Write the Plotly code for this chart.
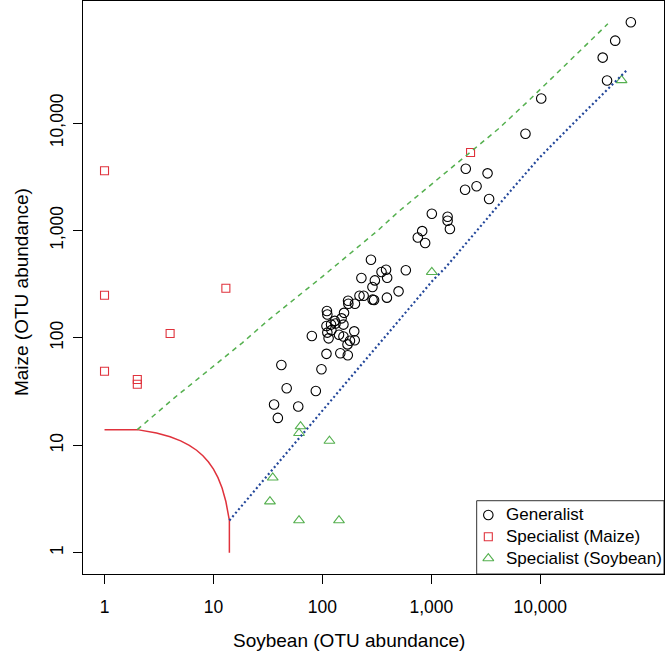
import math
import plotly.graph_objects as go

# ---------------- data (abundance values) ----------------
gen_x = [67800, 48700, 37400, 41000, 10200, 7310, 2070, 3280, 2040, 2600,
         3390, 1010, 1410, 1410, 1480, 824, 751, 877, 583, 384,
         349, 393, 500, 391, 279, 228, 303, 288, 219, 239,
         289, 298, 172, 173, 199, 110, 158, 111, 130, 150,
         109, 120, 132, 156, 121, 111, 196, 80, 114, 142,
         156, 179, 170, 198, 109, 146, 171, 42, 98, 47,
         87, 36, 60, 39]
gen_y = [86700, 58400, 40600, 24900, 16900, 7940, 3750, 3400, 2390, 2580,
         1960, 1430, 1340, 1230, 1030, 986, 859, 764, 426, 431,
         410, 363, 271, 237, 534, 361, 343, 298, 247, 247,
         227, 225, 222, 208, 208, 178, 171, 165, 144, 152,
         129, 133, 136, 133, 118, 112, 115, 104, 99, 107,
         103, 94, 87, 95, 71, 72, 69, 56, 51, 34,
         32, 24, 23, 18]

maize_x = [1, 1, 13, 4, 1, 2, 2, 2290]
maize_y = [3600, 249, 290, 110, 49, 41, 37, 5320]

soy_x = [63, 61, 116, 35, 33, 61, 142, 1010, 55700]
soy_y = [15, 13, 11, 5, 3, 2, 2, 410, 25000]

# rarity threshold curve
rare_x = [1, 2, 3, 4, 5, 6, 7, 8, 9, 10, 11, 12, 13, 14, 14]
rare_y = [14, 14, 13, 12, 11, 10, 9, 8, 7, 6, 5, 4, 3, 2, 1]

# maize specialist boundary
mline_x = [2, 4.4, 18.4, 32.3, 100, 328, 500, 1000, 2290, 4110, 7940, 15850, 41700]
mline_y = [14, 27.8, 90, 148, 372, 1014, 1497, 2692, 5324, 8790, 16400, 32100, 83800]

# soybean specialist boundary
sline_x = [14, 174.5, 328, 762, 1045, 1337, 3162, 5320, 9550, 19950, 61400]
sline_y = [2, 41.1, 86.9, 235, 348, 447, 1259, 2323, 4620, 9860, 30550]

tick_vals = [1, 10, 100, 1000, 10000]
tick_text = ["1", "10", "100", "1,000", "10,000"]

series_names = ["Generalist", "Specialist (Maize)", "Specialist (Soybean)"]

# ---------------- styles ----------------
FONT = "Arial, Liberation Sans, sans-serif"
RED = "#E0323C"
GREEN = "#55B04F"
BLUE = "#23479A"
SYMBOLS = ["circle-open", "square-open", "triangle-up-open"]
COLORS = ["black", RED, GREEN]
SIZES = [9.5, 8, 9.5]

fig = go.Figure()

for xs, ys, name, sym, col, sz in zip([gen_x, maize_x, soy_x],
                                      [gen_y, maize_y, soy_y],
                                      series_names, SYMBOLS, COLORS, SIZES):
    fig.add_trace(go.Scatter(
        x=xs, y=ys, mode="markers", name=name, showlegend=False,
        marker=dict(symbol=sym, size=sz, color=col,
                    line=dict(width=1.1, color=col))))

fig.add_trace(go.Scatter(
    x=rare_x, y=rare_y, mode="lines", showlegend=False, hoverinfo="skip",
    line=dict(color=RED, width=1.5)))
fig.add_trace(go.Scatter(
    x=mline_x, y=mline_y, mode="lines", showlegend=False, hoverinfo="skip",
    line=dict(color=GREEN, width=1.5, dash="5px,4.5px")))
fig.add_trace(go.Scatter(
    x=sline_x, y=sline_y, mode="lines", showlegend=False, hoverinfo="skip",
    line=dict(color=BLUE, width=2.2, dash="2px,2.6px")))

# ---------------- legend (box, keys on an overlay 0-1 axis, labels) ----------------
LEG_X0, LEG_Y1 = 0.6776, 0.1279
key_x = 0.6976
text_x = 0.7251
row_y = [0.1030, 0.0651, 0.0274]
for name, sym, col, sz, ry in zip(series_names, SYMBOLS, COLORS, SIZES, row_y):
    fig.add_trace(go.Scatter(
        x=[key_x], y=[ry], xaxis="x2", yaxis="y2", mode="markers",
        showlegend=False, hoverinfo="skip",
        marker=dict(symbol=sym, size=sz, color=col,
                    line=dict(width=1.1, color=col))))

# R-style common range for both axes: range(X+1, Y+1) extended by 4%
all_vals = gen_x + gen_y + maize_x + maize_y + soy_x + soy_y
lo = math.log10(min(all_vals))
hi = math.log10(max(all_vals))
ext = 0.04 * (hi - lo)
rng = [lo - ext, hi + ext]

axis_common = dict(
    type="log", range=rng, tickmode="array", tickvals=tick_vals,
    ticktext=tick_text, ticks="outside", ticklen=9, tickwidth=1,
    tickcolor="black", showline=True, linecolor="black", linewidth=1,
    mirror=True, showgrid=False, zeroline=False,
    tickfont=dict(family=FONT, size=17.5, color="black"))

annotations = [
    dict(text="Soybean (OTU abundance)", xref="paper", yref="paper",
         x=0.458, y=-0.1152, xanchor="center", yanchor="middle",
         showarrow=False, font=dict(family=FONT, size=19, color="black")),
    dict(text="Maize (OTU abundance)", xref="paper", yref="paper",
         x=-0.1067, y=0.492, xanchor="center", yanchor="middle",
         textangle=-90, showarrow=False,
         font=dict(family=FONT, size=19, color="black")),
]
for name, ry in zip(series_names, row_y):
    annotations.append(dict(
        text=name, xref="paper", yref="paper", x=text_x, y=ry,
        xanchor="left", yanchor="middle", showarrow=False,
        font=dict(family=FONT, size=17, color="black")))

fig.update_layout(
    width=667, height=654,
    margin=dict(l=83, r=3, t=1, b=80),
    paper_bgcolor="white", plot_bgcolor="white",
    xaxis=dict(**axis_common, ticklabelstandoff=8),
    yaxis=dict(**axis_common, tickangle=-90, ticklabelstandoff=3),
    xaxis2=dict(overlaying="x", range=[0, 1], visible=False, anchor="y2"),
    yaxis2=dict(overlaying="y", range=[0, 1], visible=False, anchor="x2"),
    showlegend=False,
    shapes=[dict(type="rect", xref="paper", yref="paper",
                 x0=LEG_X0, x1=1, y0=0, y1=LEG_Y1,
                 line=dict(color="#333333", width=1),
                 fillcolor="white", layer="below")],
    annotations=annotations,
)

fig.write_html("out.html", config={"displayModeBar": False},
               post_script="document.body.style.margin='0';")
